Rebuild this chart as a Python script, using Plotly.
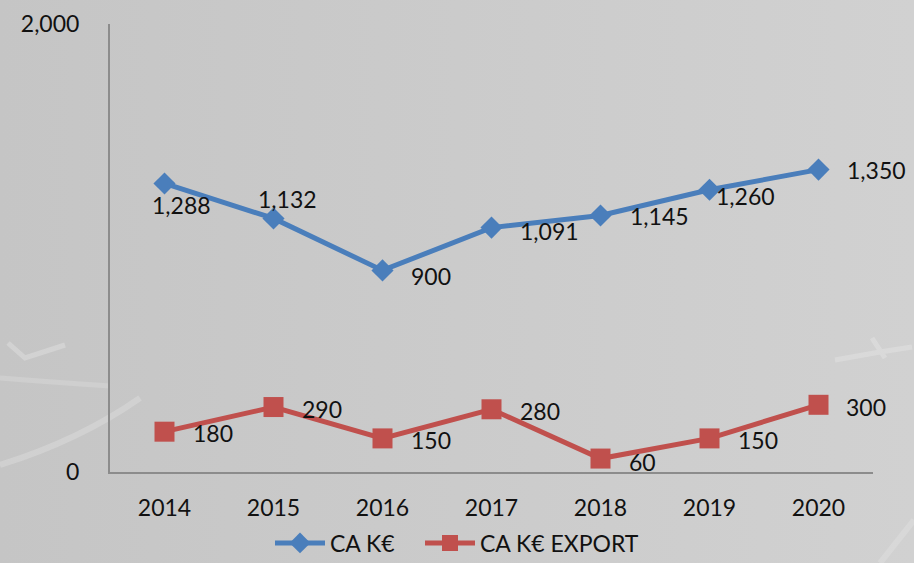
import base64
import plotly.graph_objects as go

years = ["2014", "2015", "2016", "2017", "2018", "2019", "2020"]
ca = [1288, 1132, 900, 1091, 1145, 1260, 1350]
ca_export = [180, 290, 150, 280, 60, 150, 300]
ca_labels = ["1,288", "1,132", "900", "1,091", "1,145", "1,260", "1,350"]
export_labels = ["180", "290", "150", "280", "60", "150", "300"]
y_ticks = [0, 2000]
y_tick_text = ["0", "2,000"]

FONT = "Lato"
FS = 23
blue = "#4a7ebb"
red = "#c0504d"
txt = "#111111"

W, H = 914, 563
ML, MR, MT, MB = 110, 41, 24, 91
PW, PH = W - ML - MR, H - MT - MB

# textured grey backdrop (gradient + faint chalk strokes)
svg = f"""<svg xmlns='http://www.w3.org/2000/svg' width='{W}' height='{H}' viewBox='0 0 {W} {H}'>
<defs><linearGradient id='g' x1='0' y1='0' x2='1' y2='0'>
<stop offset='0' stop-color='#c5c5c5'/><stop offset='0.5' stop-color='#cbcbcb'/><stop offset='1' stop-color='#d1d1d1'/>
</linearGradient></defs>
<rect width='{W}' height='{H}' fill='url(#g)'/>
<g fill='none' opacity='0.35'>
<path d='M0 465 Q80 440 140 398' stroke='#e6e6e6' stroke-width='6'/>
<path d='M0 378 Q50 382 110 386' stroke='#e0e0e0' stroke-width='5'/>
<path d='M8 343 L25 358 L65 345' stroke='#ececec' stroke-width='5'/>
<path d='M835 360 L880 352 L912 347 M872 338 L885 358' stroke='#ececec' stroke-width='5'/>
<path d='M880 563 L914 520' stroke='#e6e6e6' stroke-width='6'/>
</g>
</svg>"""
bg_src = "data:image/svg+xml;base64," + base64.b64encode(svg.encode()).decode()

fig = go.Figure()
fig.add_trace(go.Scatter(
    x=years, y=ca, name="CA K€", mode="lines+markers",
    line=dict(color=blue, width=5),
    marker=dict(symbol="diamond", size=17, color=blue),
    legend="legend",
))
fig.add_trace(go.Scatter(
    x=years, y=ca_export, name="CA K€ EXPORT", mode="lines+markers",
    line=dict(color=red, width=5),
    marker=dict(symbol="square", size=20, color=red),
    legend="legend2",
))

# label placement (anchor, xshift, yshift) per point
ca_place = [("center", 17, -22), ("center", 14, 19), ("left", 26, -6),
            ("left", 26, -3), ("left", 27, 0), ("left", 4, -6), ("left", 26, 0)]
ex_place = [("left", 26, -1), ("left", 26, -2), ("left", 26, -2),
            ("left", 26, -2), ("left", 26, -3), ("left", 26, -2), ("left", 25, -2)]

for ys, labels, places in [(ca, ca_labels, ca_place),
                           (ca_export, export_labels, ex_place)]:
    for i, (y, t, (anc, dx, dy)) in enumerate(zip(ys, labels, places)):
        fig.add_annotation(x=i, y=y, xref="x", yref="y", text=t, showarrow=False,
                           xanchor=anc, yanchor="middle", xshift=dx, yshift=dy,
                           font=dict(family=FONT, size=FS, color=txt))

fig.add_layout_image(dict(
    source=bg_src, xref="paper", yref="paper",
    x=-ML / PW, y=1 + MT / PH, sizex=W / PW, sizey=H / PH,
    xanchor="left", yanchor="top", sizing="stretch", layer="below",
))

leg_common = dict(orientation="h", xref="container", yref="container",
                  xanchor="left", yanchor="middle", y=(H - 543) / H,
                  font=dict(family=FONT, size=FS, color=txt),
                  bgcolor="rgba(0,0,0,0)", itemwidth=50)

fig.update_layout(
    width=W, height=H,
    margin=dict(l=ML, r=MR, t=MT, b=MB, autoexpand=False),
    paper_bgcolor="#cacaca", plot_bgcolor="rgba(0,0,0,0)",
    font=dict(family=FONT, size=FS, color=txt),
    showlegend=True,
    legend=dict(x=270 / W, **leg_common),
    legend2=dict(x=420 / W, **leg_common),
    xaxis=dict(type="category", range=[-0.5, 6.5], showgrid=False,
               showline=True, linecolor="#8c8c8c", linewidth=2, automargin=False,
               ticks="", ticklabelstandoff=14, zeroline=False),
    yaxis=dict(range=[0, 2000], tickvals=y_ticks, ticktext=y_tick_text,
               showgrid=True, gridcolor="#8c8c8c", gridwidth=2, automargin=False,
               showline=True, linecolor="#8c8c8c", linewidth=2,
               ticks="", ticklabelstandoff=24, zeroline=False),
)

fig.write_html("out.html", config={"displayModeBar": False},
               post_script="document.body.style.margin='0';document.body.style.overflow='hidden';")
